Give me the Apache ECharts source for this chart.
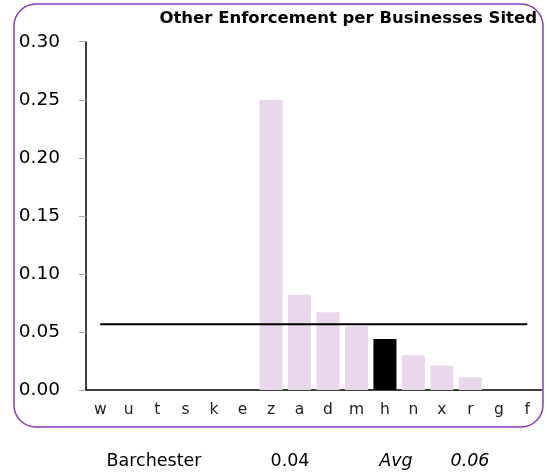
<!DOCTYPE html>
<html>
<head>
<meta charset="utf-8">
<script src="https://cdn.jsdelivr.net/npm/echarts@6/dist/echarts.min.js"></script>
<style>
    html, body { margin: 0; padding: 0; background: #fff; }
    #chart { width: 549px; height: 472px; }
</style>
</head>
<body>
<div id="chart"></div>
<script>
// 分类 / 数值
var categories = ['w', 'u', 't', 's', 'k', 'e', 'z', 'a', 'd', 'm', 'h', 'n', 'x', 'r', 'g', 'f'];
var values = [0, 0, 0, 0, 0, 0, 0.25, 0.082, 0.067, 0.055, 0.044, 0.030, 0.021, 0.011, 0, 0];
var highlight = 'h';
var avgValue = 0.0566;
var yTicks = [0, 0.05, 0.10, 0.15, 0.20, 0.25, 0.30];
var footer = ['Barchester', '0.04', 'Avg', '0.06'];

var font = 'DejaVu Sans';
var myChart = echarts.init(document.getElementById('chart'));

var barData = values.map(function (v, i) {
    return {
        value: v,
        itemStyle: { color: categories[i] === highlight ? '#000000' : '#e9d8eb' }
    };
});

// 底部文字
function footText(text, x, italic) {
    return {
        type: 'text', x: x, y: 461,
        style: {
            text: text, fill: '#000',
            fontFamily: font, fontSize: 17.5,
            fontStyle: italic ? 'italic' : 'normal',
            textAlign: 'center', textVerticalAlign: 'middle'
        }
    };
}

var option = {
    animation: false,
    grid: { left: 86, right: 7.5, top: 41.7, bottom: 82 },
    xAxis: {
        type: 'category',
        data: categories,
        axisLine: { lineStyle: { color: '#000', width: 1.5 } },
        axisTick: { show: false },
        axisLabel: { color: '#222', fontFamily: font, fontSize: 15.5, margin: 12 }
    },
    yAxis: {
        type: 'value',
        min: yTicks[0],
        max: yTicks[yTicks.length - 1],
        interval: 0.05,
        splitLine: { show: false },
        axisLine: { show: true, lineStyle: { color: '#000', width: 1.5 } },
        axisTick: { show: true, length: 7, lineStyle: { color: '#aaa' } },
        axisLabel: {
            color: '#000', fontFamily: font, fontSize: 18.5, margin: 26,
            formatter: function (v) { return v.toFixed(2); }
        }
    },
    series: [
        {
            type: 'bar',
            data: barData,
            barCategoryGap: '19%'
        },
        {
            // 平均线
            type: 'line',
            data: categories.map(function () { return avgValue; }),
            symbol: 'none',
            lineStyle: { color: '#000', width: 2 },
            z: 5
        }
    ],
    graphic: [
        {
            type: 'rect',
            shape: { x: 14, y: 4, width: 529, height: 423, r: 22 },
            style: { fill: 'none', stroke: '#8040c0', lineWidth: 1.5 },
            silent: true
        },
        {
            type: 'text', x: 537, y: 19,
            style: {
                text: 'Other Enforcement per Businesses Sited', fill: '#000',
                fontFamily: font, fontWeight: 'bold', fontSize: 16.5,
                textAlign: 'right', textVerticalAlign: 'middle'
            }
        },
        footText(footer[0], 154, false),
        footText(footer[1], 290, false),
        footText(footer[2], 396, true),
        footText(footer[3], 470, true)
    ]
};

myChart.setOption(option);

window.addEventListener('resize', function () {
    myChart.resize();
});
</script>
</body>
</html>
